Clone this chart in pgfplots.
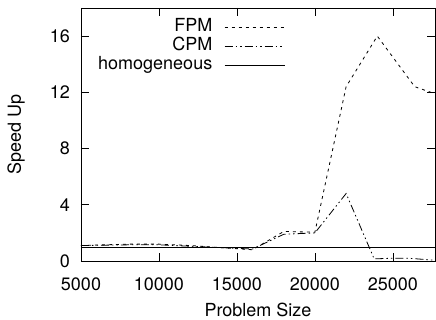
\documentclass[border=0pt]{standalone}
\usepackage{fontspec}
\setmainfont{TeX Gyre Heros}
\usepackage{pgfplots}
\pgfplotsset{compat=1.18}
\begin{document}
\fontsize{18}{21}\selectfont
\begin{tikzpicture}
\begin{axis}[
  scale only axis,
  width=354pt, height=253pt,
  xmin=5000, xmax=27700, ymin=0, ymax=18,
  xtick={5000,10000,15000,20000,25000},
  ytick={0,4,8,12,16},
  scaled x ticks=false,
  /pgf/number format/assume math mode=true,
  /pgf/number format/set thousands separator={},
  tick style={black, line width=0.6pt},
  major tick length=8pt,
  tick align=inside,
  axis line style={line width=0.8pt},
  xlabel={Problem Size},
  ylabel={Speed Up},
  xticklabel style={yshift=-11pt},
  yticklabel style={anchor=east, inner sep=0pt, xshift=-11pt},
  xlabel style={at={(rel axis cs:0.5,0)}, anchor=north, inner sep=0pt, text height=13pt, yshift=-42pt},
  ylabel style={at={(rel axis cs:0,0.5)}, anchor=center, inner sep=0pt, yshift=65pt},
  legend style={draw=none, fill=none, inner sep=0pt, at={(rel axis cs:0,1)}, anchor=north west,
    xshift=17pt, yshift=-10.5pt,
    nodes={inner sep=0pt, text height=13pt, text depth=4pt}, row sep=2pt,
    column sep=12pt},
  legend cell align=right,
  legend plot pos=right,
  legend image code/.code={\draw[#1] (0pt,0pt) -- (60pt,0pt);},
]
\addplot[black, line width=0.8pt, dash pattern=on 3pt off 4pt] coordinates {
 (5000,1.1) (8000,1.2) (10000,1.2) (12000,1.1) (14000,0.95) (16000,0.8)
 (18000,2.1) (20000,2.05) (22000,12.4) (24000,16.0) (26400,12.4) (27700,11.9)
};
\addlegendentry{FPM}
\addplot[black, line width=0.8pt, dash pattern=on 8pt off 3pt on 1.5pt off 3pt on 1.5pt off 3pt] coordinates {
 (5000,1.1) (8000,1.15) (10000,1.15) (12000,1.05) (14000,0.95) (16000,0.85)
 (18000,1.9) (20000,2.0) (22000,4.8) (23800,0.15) (25000,0.2) (26000,0.2) (27700,0.05)
};
\addlegendentry{CPM}
\addplot[black, line width=0.8pt] coordinates {(5000,1) (27700,1)};
\addlegendentry{homogeneous}
\end{axis}
\pgfresetboundingbox
\path[use as bounding box] ([shift={(-81pt,-59pt)}]current axis.south west) rectangle ([shift={(1pt,8pt)}]current axis.north east);
\end{tikzpicture}
\end{document}
